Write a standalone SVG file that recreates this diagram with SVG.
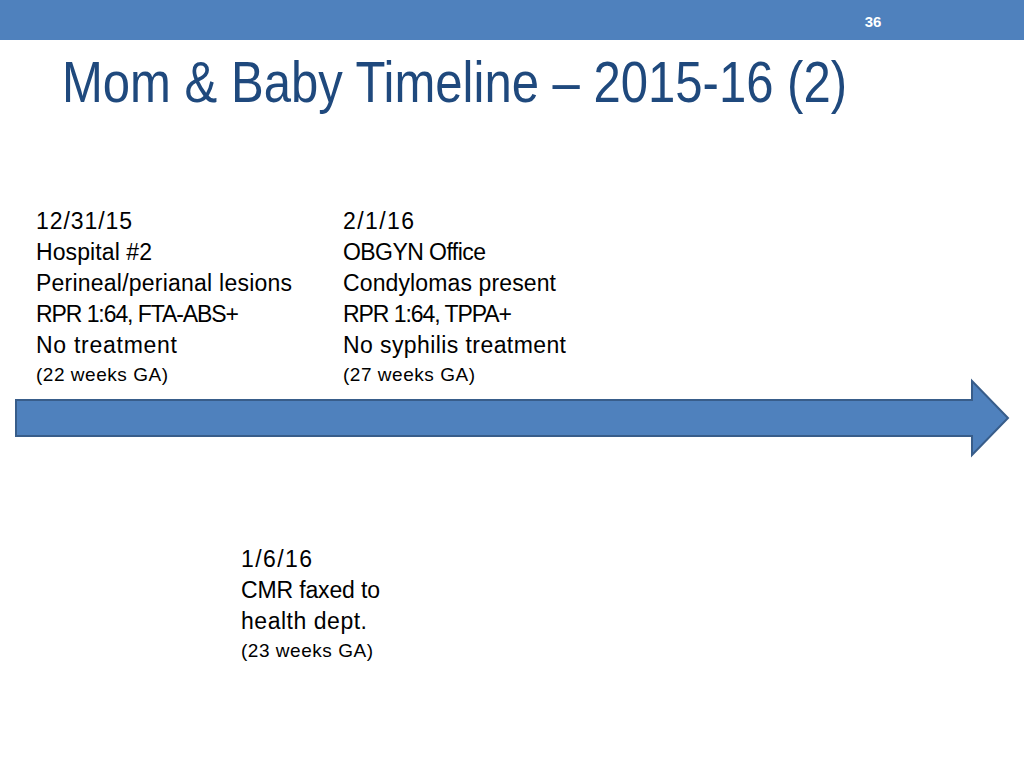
<svg xmlns="http://www.w3.org/2000/svg" width="1024" height="768" viewBox="0 0 1024 768">
<style>
.t{font-family:"Liberation Sans",Arial,sans-serif;font-size:23px;fill:#000}
.s{font-family:"Liberation Sans",Arial,sans-serif;font-size:19px;fill:#000}
</style>
<rect x="0" y="0" width="1024" height="768" fill="#fff"/>
<rect x="0" y="0" width="1024" height="40" fill="#4F81BD"/>
<text x="873" y="27" text-anchor="middle" font-family="Liberation Sans, Arial, sans-serif" font-size="15" font-weight="bold" fill="#fff">36</text>
<text x="62" y="102" font-family="Liberation Sans, Arial, sans-serif" font-size="57" fill="#1F497D" textLength="785" lengthAdjust="spacingAndGlyphs">Mom &amp; Baby Timeline – 2015-16 (2)</text>
<g id="connectors">
<path d="M16,400 H972 V381 L1008,418 L972,455 V436 H16 Z" fill="#4F81BD" stroke="#385D8A" stroke-width="2"/>
</g>
<g id="event1">
<text class="t" x="36" y="229" textLength="96">12/31/15</text>
<text class="t" x="36" y="260" textLength="116">Hospital #2</text>
<text class="t" x="36" y="291" textLength="256">Perineal/perianal lesions</text>
<text class="t" x="36" y="322" textLength="203">RPR 1:64, FTA-ABS+</text>
<text class="t" x="36" y="353" textLength="141">No treatment</text>
<text class="s" x="36" y="381" textLength="132">(22 weeks GA)</text>
</g>
<g id="event2">
<text class="t" x="343" y="229" textLength="71">2/1/16</text>
<text class="t" x="343" y="260" textLength="143">OBGYN Office</text>
<text class="t" x="343" y="291" textLength="213">Condylomas present</text>
<text class="t" x="343" y="322" textLength="169">RPR 1:64, TPPA+</text>
<text class="t" x="343" y="353" textLength="223">No syphilis treatment</text>
<text class="s" x="343" y="381" textLength="132">(27 weeks GA)</text>
</g>
<g id="event3">
<text class="t" x="241" y="567" textLength="71">1/6/16</text>
<text class="t" x="241" y="598" textLength="139">CMR faxed to</text>
<text class="t" x="241" y="629" textLength="126">health dept.</text>
<text class="s" x="241" y="657" textLength="132">(23 weeks GA)</text>
</g>
</svg>
